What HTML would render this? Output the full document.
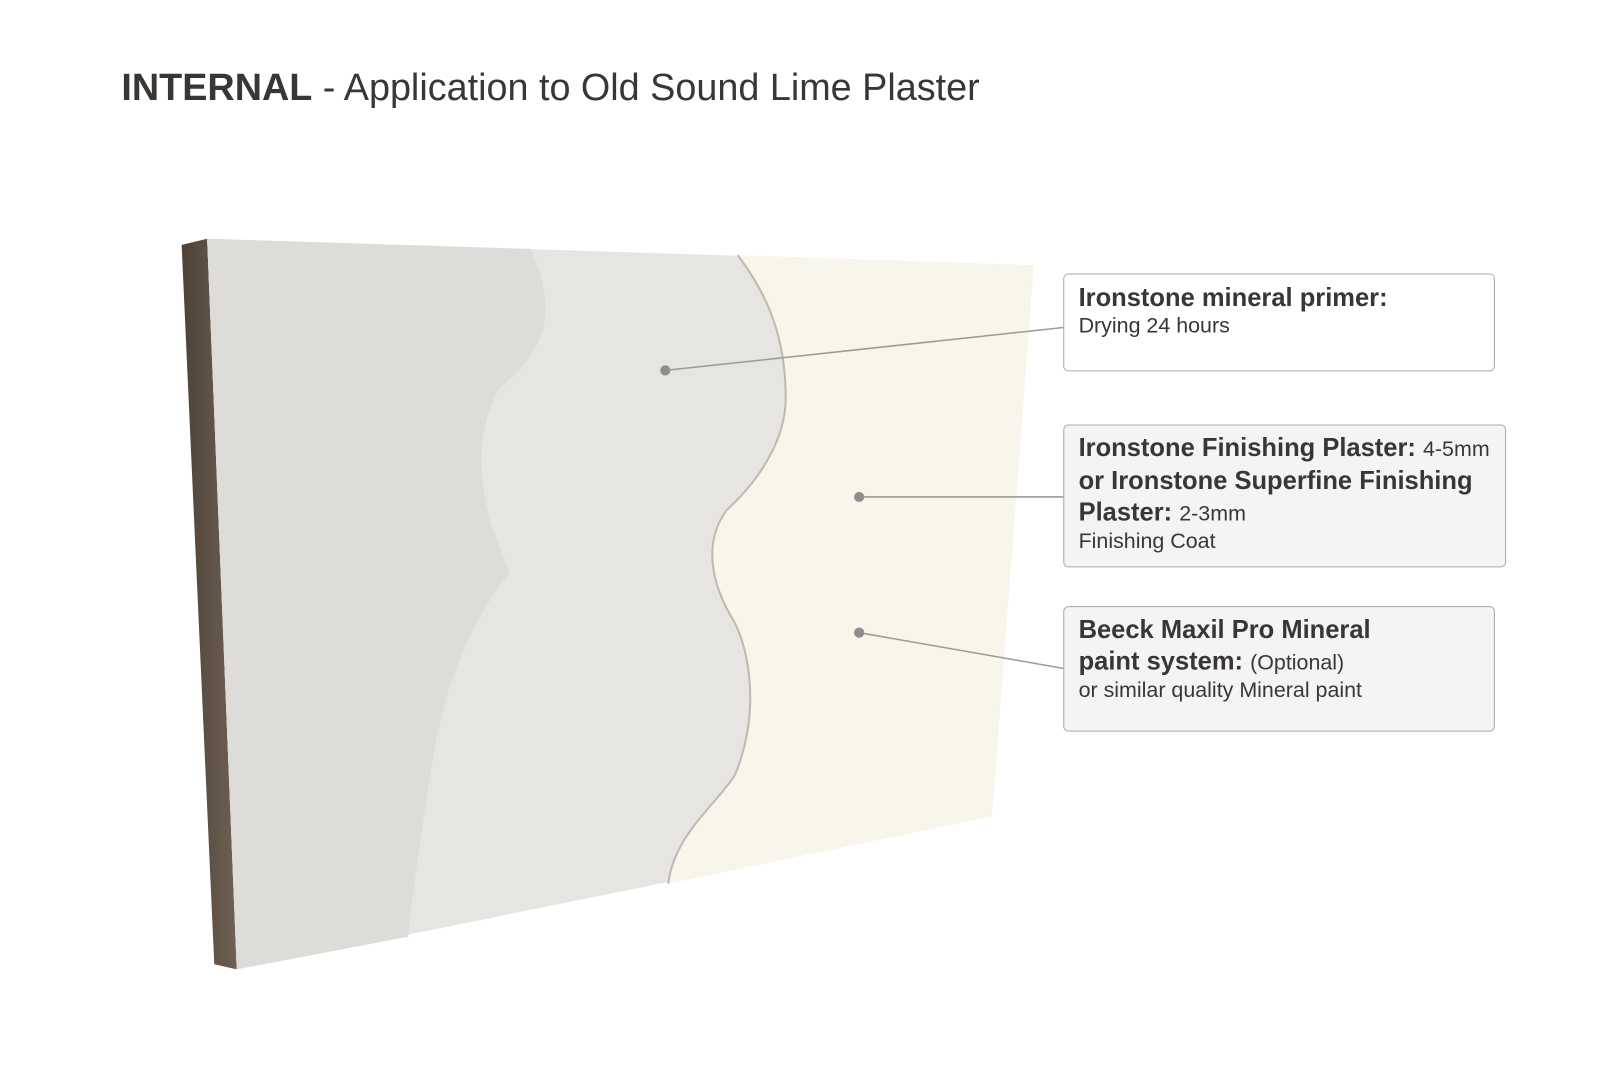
<!DOCTYPE html>
<html><head><meta charset="utf-8"><style>
html,body{margin:0;padding:0;background:#fff;}
body{width:1600px;height:1066px;position:relative;overflow:hidden;font-family:"Liberation Sans","DejaVu Sans",sans-serif;color:#3a3634;}
#wrap{position:absolute;left:0;top:0;width:1568px;height:1045px;transform:scale(1.0204);transform-origin:0 0;}
.title{position:absolute;left:119px;top:65px;font-size:37px;white-space:nowrap;}
.box{position:absolute;border:1.5px solid #a8a8a8;border-radius:5px;box-sizing:border-box;padding:8px 14px;}
.b{font-weight:bold;font-size:25px;line-height:31px;white-space:nowrap;}
.r{font-size:21px;line-height:24px;white-space:nowrap;}
.n{font-weight:normal;font-size:21px;}
</style></head><body><div id="wrap">
<div class="title"><b>INTERNAL</b> - Application to Old Sound Lime Plaster</div>
<svg width="1568" height="1045" style="position:absolute;left:0;top:0">
<defs>
<linearGradient id="edge" x1="0" x2="1" y1="0" y2="0"><stop offset="0" stop-color="#4e4238"/><stop offset="1" stop-color="#6e6052"/></linearGradient>
</defs>
<polygon points="178,240 203,234 232,950 210,945" fill="url(#edge)"/>
<polygon points="203,234 1013,260 972,800 232,950" fill="#e6e5e2"/>
<path d="M203,234 L520,244 C545,300 540,340 490,380 C460,430 470,500 500,560 C470,600 440,650 425,740 C415,800 405,870 400,918 L232,950 Z" fill="#dedcd8"/>
<path d="M723,250 L1013,260 L972,800 L655,866 C660,820 700,790 720,760 C745,700 735,640 720,610 C695,570 690,530 712,500 C745,470 770,430 770,390 C770,320 745,280 723,250 Z" fill="#f8f5ea"/>
<path d="M655,866 C660,820 700,790 720,760 C745,700 735,640 720,610 C695,570 690,530 712,500 C745,470 770,430 770,390 C770,320 745,280 723,250" fill="none" stroke="#bdbab2" stroke-width="2"/>
<g stroke="#9a9a9a" stroke-width="1.5"><line x1="652" y1="363" x2="1042" y2="321"/><line x1="842" y1="487" x2="1042" y2="487"/><line x1="842" y1="620" x2="1042" y2="655"/></g>
<g fill="#8e8e8e"><circle cx="652" cy="363" r="5"/><circle cx="842" cy="487" r="5"/><circle cx="842" cy="620" r="5"/></g>
</svg>
<div class="box" style="left:1042px;top:268px;width:423px;height:96px;background:#fff;">
<div class="b">Ironstone mineral primer:</div><div class="r">Drying 24 hours</div></div>
<div class="box" style="left:1042px;top:416px;width:434px;height:140px;background:#f4f4f4;padding-top:7px;">
<div class="b">Ironstone Finishing Plaster: <span class="n">4-5mm</span></div><div class="b">or Ironstone Superfine Finishing</div><div class="b">Plaster: <span class="n">2-3mm</span></div><div class="r">Finishing Coat</div></div>
<div class="box" style="left:1042px;top:594px;width:423px;height:123px;background:#f4f4f4;padding-top:7px;">
<div class="b">Beeck Maxil Pro Mineral</div><div class="b">paint system: <span class="n">(Optional)</span></div><div class="r">or similar quality Mineral paint</div></div>
</div></body></html>
